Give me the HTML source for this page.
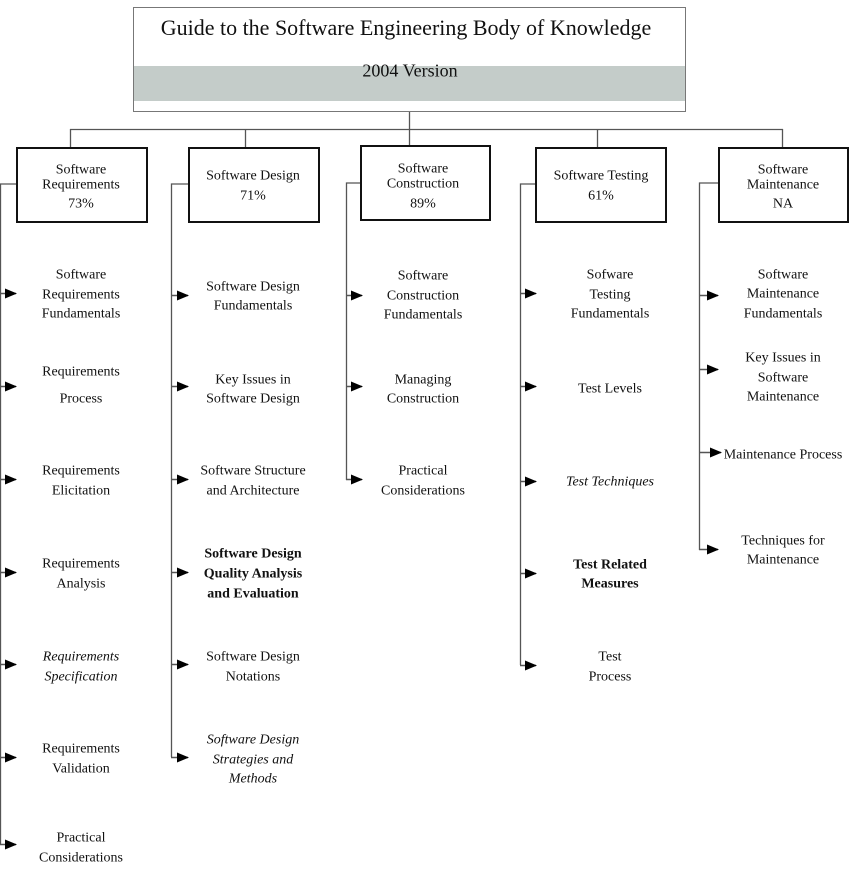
<!DOCTYPE html>
<html><head><meta charset="utf-8"><style>
html,body{margin:0;padding:0;background:#fff;}
svg{display:block;}
text{font-family:"Liberation Serif",serif;font-size:14px;fill:#111;text-anchor:middle;dominant-baseline:middle;transform:translateY(1.5px);}
.i{font-style:italic}.b{font-weight:bold}
</style></head><body>
<svg width="850" height="886" viewBox="0 0 850 886" xmlns="http://www.w3.org/2000/svg">
<defs><marker id="a" markerWidth="12" markerHeight="10" refX="11" refY="5" orient="auto" markerUnits="userSpaceOnUse"><path d="M0,0 L12,5 L0,10 z" fill="#000"/></marker></defs>
<rect x="133.5" y="7.5" width="552" height="104" fill="#fff" stroke="#777" stroke-width="1"/>
<rect x="134" y="66" width="551" height="35" fill="#c4ccc9"/>
<text x="406" y="28.5" style="font-size:22px">Guide to the Software Engineering Body of Knowledge</text>
<text x="410" y="71" style="font-size:18px">2004 Version</text>
<g stroke="#555" stroke-width="1.3" fill="none">
<line x1="409.5" y1="112" x2="409.5" y2="147"/>
<line x1="70" y1="129.5" x2="783" y2="129.5"/>
<line x1="70.5" y1="129" x2="70.5" y2="148"/>
<line x1="245.5" y1="129" x2="245.5" y2="148"/>
<line x1="597.5" y1="129" x2="597.5" y2="148"/>
<line x1="782.5" y1="129" x2="782.5" y2="148"/>
<polyline points="16,184 0.5,184 0.5,845"/>
<polyline points="188,184 171.5,184 171.5,757"/>
<polyline points="361,183 346.5,183 346.5,480"/>
<polyline points="535,184 520.5,184 520.5,665"/>
<polyline points="718,183 699.5,183 699.5,550"/>
</g>
<g fill="#fff" stroke="#111" stroke-width="2">
<rect x="17" y="148" width="130" height="74"/>
<rect x="189" y="148" width="130" height="74"/>
<rect x="361" y="146" width="129" height="74"/>
<rect x="536" y="148" width="130" height="74"/>
<rect x="719" y="148" width="129" height="74"/>
</g>
<text x="81" y="169">Software</text><text x="81" y="184">Requirements</text><text x="81" y="203">73%</text>
<text x="253" y="175">Software Design</text><text x="253" y="195">71%</text>
<text x="423" y="168">Software</text><text x="423" y="183">Construction</text><text x="423" y="203">89%</text>
<text x="601" y="175">Software Testing</text><text x="601" y="195">61%</text>
<text x="783" y="169">Software</text><text x="783" y="184">Maintenance</text><text x="783" y="203">NA</text>
<g stroke="#555" stroke-width="1.5" marker-end="url(#a)">
<line x1="0" y1="293.5" x2="16" y2="293.5"/>
<line x1="0" y1="386.5" x2="16" y2="386.5"/>
<line x1="0" y1="479.5" x2="16" y2="479.5"/>
<line x1="0" y1="572.5" x2="16" y2="572.5"/>
<line x1="0" y1="664.5" x2="16" y2="664.5"/>
<line x1="0" y1="757.5" x2="16" y2="757.5"/>
<line x1="0" y1="844.5" x2="16" y2="844.5"/>
<line x1="171" y1="295.5" x2="188" y2="295.5"/>
<line x1="171" y1="386.5" x2="188" y2="386.5"/>
<line x1="171" y1="479.5" x2="188" y2="479.5"/>
<line x1="171" y1="572.5" x2="188" y2="572.5"/>
<line x1="171" y1="664.5" x2="188" y2="664.5"/>
<line x1="171" y1="757.5" x2="188" y2="757.5"/>
<line x1="346" y1="295.5" x2="362" y2="295.5"/>
<line x1="346" y1="386.5" x2="362" y2="386.5"/>
<line x1="346" y1="479.5" x2="362" y2="479.5"/>
<line x1="520" y1="293.5" x2="536" y2="293.5"/>
<line x1="520" y1="386.5" x2="536" y2="386.5"/>
<line x1="520" y1="481.5" x2="536" y2="481.5"/>
<line x1="520" y1="573.5" x2="536" y2="573.5"/>
<line x1="520" y1="665.5" x2="536" y2="665.5"/>
<line x1="699" y1="295.5" x2="718" y2="295.5"/>
<line x1="699" y1="369.5" x2="718" y2="369.5"/>
<line x1="699" y1="452.5" x2="721" y2="452.5"/>
<line x1="699" y1="549.5" x2="718" y2="549.5"/>
</g>
<text x="81" y="274">Software</text><text x="81" y="294">Requirements</text><text x="81" y="313">Fundamentals</text>
<text x="81" y="371">Requirements</text><text x="81" y="398">Process</text>
<text x="81" y="470">Requirements</text><text x="81" y="490">Elicitation</text>
<text x="81" y="563">Requirements</text><text x="81" y="583">Analysis</text>
<text class="i" x="81" y="656">Requirements</text><text class="i" x="81" y="676">Specification</text>
<text x="81" y="748">Requirements</text><text x="81" y="768">Validation</text>
<text x="81" y="837">Practical</text><text x="81" y="857">Considerations</text>
<text x="253" y="286">Software Design</text><text x="253" y="305">Fundamentals</text>
<text x="253" y="379">Key Issues in</text><text x="253" y="398">Software Design</text>
<text x="253" y="470">Software Structure</text><text x="253" y="490">and Architecture</text>
<text class="b" x="253" y="553">Software Design</text><text class="b" x="253" y="573">Quality Analysis</text><text class="b" x="253" y="593">and Evaluation</text>
<text x="253" y="656">Software Design</text><text x="253" y="676">Notations</text>
<text class="i" x="253" y="739">Software Design</text><text class="i" x="253" y="759">Strategies and</text><text class="i" x="253" y="778">Methods</text>
<text x="423" y="275">Software</text><text x="423" y="295">Construction</text><text x="423" y="314">Fundamentals</text>
<text x="423" y="379">Managing</text><text x="423" y="398">Construction</text>
<text x="423" y="470">Practical</text><text x="423" y="490">Considerations</text>
<text x="610" y="274">Sofware</text><text x="610" y="294">Testing</text><text x="610" y="313">Fundamentals</text>
<text x="610" y="388">Test Levels</text>
<text class="i" x="610" y="481">Test Techniques</text>
<text class="b" x="610" y="564">Test Related</text><text class="b" x="610" y="583">Measures</text>
<text x="610" y="656">Test</text><text x="610" y="676">Process</text>
<text x="783" y="274">Software</text><text x="783" y="293">Maintenance</text><text x="783" y="313">Fundamentals</text>
<text x="783" y="357">Key Issues in</text><text x="783" y="377">Software</text><text x="783" y="396">Maintenance</text>
<text x="783" y="454">Maintenance Process</text>
<text x="783" y="540">Techniques for</text><text x="783" y="559">Maintenance</text>
</svg>
</body></html>
